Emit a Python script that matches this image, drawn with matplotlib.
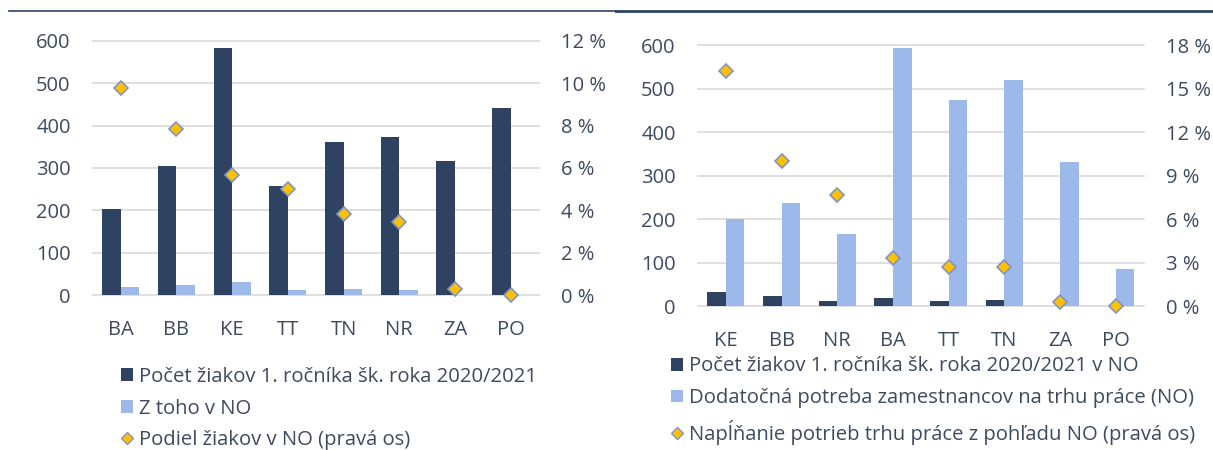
import matplotlib
matplotlib.use("Agg")
import matplotlib.pyplot as plt
from matplotlib.lines import Line2D
from matplotlib.patches import Patch
from matplotlib.ticker import FuncFormatter

plt.rcParams['font.family'] = ['Open Sans', 'DejaVu Sans']

# left chart: pupils in first year, share in NO
regions_left = ['BA', 'BB', 'KE', 'TT', 'TN', 'NR', 'ZA', 'PO']
pupils_left = [204, 305, 582, 257, 362, 374, 317, 442]
pupils_no_left = [20, 24, 32, 13, 14, 13, 1, 0]
share_no_left = [9.75, 7.85, 5.65, 5.0, 3.85, 3.45, 0.3, 0.0]

# right chart: pupils in NO vs. extra labour market demand
regions_right = ['KE', 'BB', 'NR', 'BA', 'TT', 'TN', 'ZA', 'PO']
pupils_no_right = [32, 24, 13, 20, 13, 14, 1, 0]
demand_right = [201, 237, 165, 593, 474, 519, 331, 85]
coverage_right = [16.2, 10.0, 7.7, 3.3, 2.7, 2.7, 0.3, 0.0]

labels_left = ['Počet žiakov 1. ročníka šk. roka 2020/2021',
               'Z toho v NO',
               'Podiel žiakov v NO (pravá os)']
labels_right = ['Počet žiakov 1. ročníka šk. roka 2020/2021 v NO',
                'Dodatočná potreba zamestnancov na trhu práce (NO)',
                'Napĺňanie potrieb trhu práce z pohľadu NO (pravá os)']

DARK = '#2F4262'
LIGHT = '#9DB9E9'
GOLD = '#FFC000'
EDGE = '#7F96C4'
TXT = '#3E4A5E'
GRID = '#D9D9D9'
FS = 14.5
LEG_FS = 14.6


def draw(ax, cats, dark, light, pct, pct_max, pct_step):
    x = list(range(len(cats)))
    w = 0.333
    ax.bar([i - w / 2 for i in x], dark, w, color=DARK, zorder=2)
    ax.bar([i + w / 2 for i in x], light, w, color=LIGHT, zorder=2)
    ax.set_xlim(-0.5, len(cats) - 0.5)
    ax.set_ylim(0, 600)
    ax.set_yticks(range(0, 601, 100))
    ax.set_xticks(x)
    ax.set_xticklabels(cats)
    ax.grid(axis='y', color=GRID, linewidth=1.2)
    ax.set_axisbelow(True)
    for gl in ax.get_ygridlines():
        gl.set_clip_on(False)
    for s in ax.spines.values():
        s.set_visible(False)
    ax.tick_params(axis='both', length=0, labelsize=FS, colors=TXT)
    ax.tick_params(axis='y', pad=16)
    ax.tick_params(axis='x', pad=18)

    ax2 = ax.twinx()
    ax2.plot(x, pct, linestyle='none', marker='D', markersize=7,
             markerfacecolor=GOLD, markeredgecolor=EDGE, markeredgewidth=1.2,
             clip_on=False, zorder=5)
    ax2.set_ylim(0, pct_max)
    ax2.set_yticks(range(0, pct_max + 1, pct_step))
    ax2.yaxis.set_major_formatter(FuncFormatter(lambda v, p: '%d %%' % v))
    for s in ax2.spines.values():
        s.set_visible(False)
    ax2.tick_params(axis='y', length=0, labelsize=FS, colors=TXT, pad=16)
    return ax2


def handles():
    return [Patch(facecolor=DARK, edgecolor='none'),
            Patch(facecolor=LIGHT, edgecolor='none'),
            Line2D([], [], linestyle='none', marker='D', markersize=6,
                   markerfacecolor=GOLD, markeredgecolor=EDGE, markeredgewidth=1.0)]


fig = plt.figure(figsize=(12.13, 4.5), dpi=100)

ax_l = fig.add_axes([0.0766, 0.3438, 0.3674, 0.5658])
draw(ax_l, regions_left, pupils_left, pupils_no_left, share_no_left, 12, 2)

ax_r = fig.add_axes([0.5754, 0.3193, 0.3675, 0.5807])
draw(ax_r, regions_right, pupils_no_right, demand_right, coverage_right, 18, 3)

leg_kw = dict(frameon=False, fontsize=LEG_FS, handlelength=0.6, handleheight=0.6,
              handletextpad=0.3, borderpad=0, borderaxespad=0, loc='upper left')
leg1 = fig.legend(handles(), labels_left, bbox_to_anchor=(0.0998, 0.1843),
                  labelspacing=0.57, **leg_kw)
leg2 = fig.legend(handles(), labels_right, bbox_to_anchor=(0.5528, 0.208),
                  labelspacing=0.58, **leg_kw)
for leg in (leg1, leg2):
    for t in leg.get_texts():
        t.set_color(TXT)

# rule under the (cropped) heading
fig.add_artist(Line2D([9 / 1213, 616 / 1213], [1 - 11 / 450] * 2, color=DARK, linewidth=1.2))
fig.add_artist(Line2D([616 / 1213, 1.0], [1 - 11 / 450] * 2, color=DARK, linewidth=2.0))

fig.savefig('out.png', dpi=100)
